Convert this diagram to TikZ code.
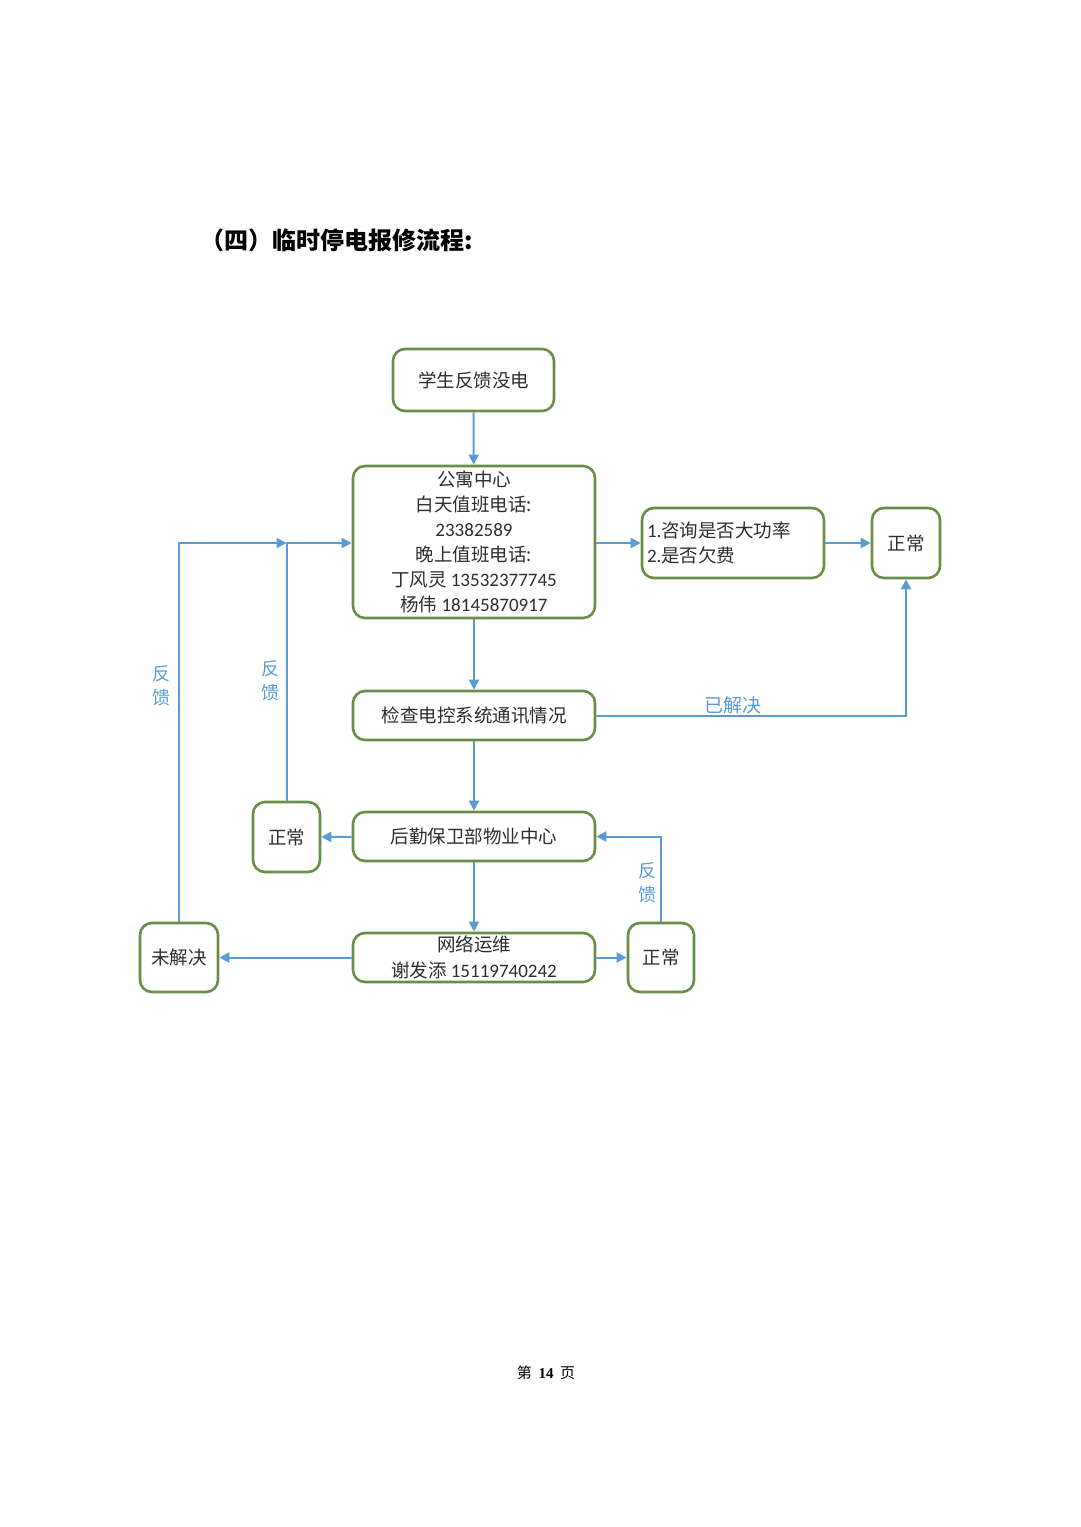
\documentclass[tikz,border=0pt]{standalone}
\usepackage{fontspec}
\setmainfont{Liberation Serif}
\newfontfamily\cjk{Noto Sans CJK SC}
\newfontfamily\num{Carlito}
\usetikzlibrary{arrows.meta}
\definecolor{boxgreen}{RGB}{104,142,72}
\definecolor{arrblue}{RGB}{91,155,213}
\definecolor{txtgray}{RGB}{45,45,45}
\newcommand{\nm}[1]{{\num\fontsize{19}{25}\selectfont #1}}
\begin{document}
\begin{tikzpicture}[x=1pt,y=-1pt,
  box/.style={draw=boxgreen, line width=2.6pt, rounded corners=12pt, fill=white, inner sep=0pt,
    text=txtgray, font=\cjk\fontsize{18.5}{25}\selectfont, align=center},
  arr/.style={draw=arrblue, line width=2pt, -{Triangle[length=10pt,width=10pt]}},
  fb/.style={text=arrblue, font=\cjk\fontsize{18}{24}\selectfont, align=center, inner sep=0pt}]
\useasboundingbox (0,0) rectangle (1080,1527);
\node[anchor=west, inner sep=0pt, font=\cjk\bfseries\fontsize{24}{28}\selectfont] (t) at (200,240) {（四）临时停电报修流程:};

\node[box, minimum width=161pt, minimum height=62pt] (s) at (473.5,380) {学生反馈没电};
\node[box, minimum width=242pt, minimum height=152pt] (g) at (474,542) {公寓中心\\白天值班电话:\\\nm{23382589}\\晚上值班电话:\\丁风灵 \nm{13532377745}\\杨伟 \nm{18145870917}};
\node[box, minimum width=182pt, minimum height=70pt, text width=172pt, align=left] (q) at (733,543) {\nm{1.}咨询是否大功率\\\nm{2.}是否欠费};
\node[box, minimum width=68pt, minimum height=70pt] (n1) at (906,543) {正常};
\node[box, minimum width=242pt, minimum height=49pt] (c) at (474,715.5) {检查电控系统通讯情况};
\node[box, minimum width=242pt, minimum height=49pt] (h) at (474,836.5) {后勤保卫部物业中心};
\node[box, minimum width=67pt, minimum height=70pt] (n2) at (286.5,837) {正常};
\node[box, minimum width=242pt, minimum height=49pt, font=\cjk\fontsize{18.5}{26}\selectfont] (w) at (474,957.5) {网络运维\\谢发添 \nm{15119740242}};
\node[box, minimum width=78pt, minimum height=69pt] (u) at (179,957.5) {未解决};
\node[box, minimum width=66pt, minimum height=69pt] (n3) at (661,957.5) {正常};

\draw[arr] (s) -- (g);
\draw[arr] (g.east |- q.west) -- (q.west);
\draw[arr] (q) -- (n1);
\draw[arr] (g) -- (c);
\draw[arr] (c.east) -| node[pos=0.22, anchor=south, fb, font=\cjk\fontsize{19}{24}\selectfont] (lj) {已解决} (n1.south);
\draw[arr] (c) -- (h);
\draw[arr] (h) -- (n2);
\coordinate (j) at (n2.north |- q.west);
\draw[arr] (n2.north) -- (j) -- (g.west |- q.west);
\draw[arr] (u.north) |- (j);
\draw[arr] (h) -- (w);
\draw[arr] (w) -- (u);
\draw[arr] (w) -- (n3);
\draw[arr] (n3.north) |- (h.east);

\node[fb] (f1) at (161,686) {反\\馈};
\node[fb] (f2) at (270,681) {反\\馈};
\node[fb] (f3) at (647,883) {反\\馈};

\node[font=\cjk\fontsize{15}{18}\selectfont] (p) at (546,1373) {第 \ {\rmfamily\bfseries 14} \ 页};
\end{tikzpicture}
\end{document}
